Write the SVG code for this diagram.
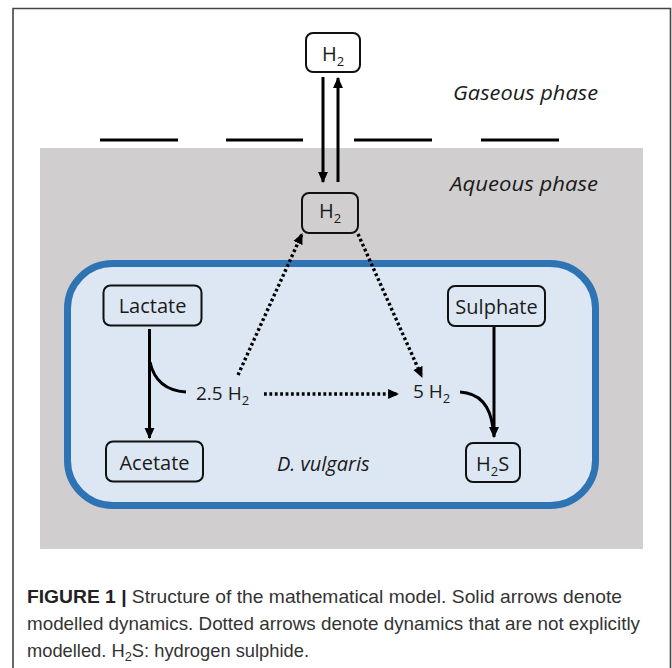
<svg xmlns="http://www.w3.org/2000/svg" width="672" height="668" viewBox="0 0 672 668">
<style>
.box{fill:none;stroke:#111;stroke-width:2}
.lbl{font-family:"Open Sans","DejaVu Sans",sans-serif;font-size:20px;fill:#1a1a1a}
.it{font-family:"Open Sans","DejaVu Sans",sans-serif;font-size:20px;font-style:italic;fill:#1a1a1a}
.sub{font-size:13px}
.sol{fill:none;stroke:#000;stroke-width:3}
.dot{fill:none;stroke:#000;stroke-width:3.4;stroke-dasharray:2.8 2.6}
.cap{font-family:"Liberation Sans","Arial",sans-serif;font-size:18.5px;fill:#333}
</style>
<defs>
<marker id="ah" markerWidth="11" markerHeight="11" viewBox="0 0 10 10" refX="9" refY="5" orient="auto" markerUnits="userSpaceOnUse">
<path d="M0,0.5 L10,5 L0,9.5 Z" fill="#000"/>
</marker>
</defs>
<rect x="0" y="0" width="672" height="668" fill="#fff"/>
<path d="M13,668 V8.5 H670.5 V668" fill="none" stroke="#444" stroke-width="1.6"/>
<g id="aqueous-bg"><rect x="40" y="148" width="603" height="401" fill="#d0cece"/></g>
<g id="surface">
<path d="M100,140 H178 M226,140 H303 M354,140 H432 M481,140 H559" stroke="#000" stroke-width="3.2"/>
</g>
<g id="phase-labels">
<text class="it" x="453" y="100" textLength="145" lengthAdjust="spacingAndGlyphs">Gaseous phase</text>
<text class="it" x="450" y="191" textLength="148" lengthAdjust="spacingAndGlyphs">Aqueous phase</text>
</g>
<g id="cell"><rect x="67.5" y="263.5" width="528" height="242" rx="45" fill="#dde7f3" stroke="#2e74b5" stroke-width="7"/>
<text class="it" x="277" y="471">D. vulgaris</text></g>
<g id="h2-gas"><rect class="box" x="306" y="33" width="54" height="39" rx="7"/>
<text class="lbl" x="322" y="61">H<tspan class="sub" dy="5">2</tspan></text></g>
<g id="h2-aq"><rect class="box" x="302" y="193" width="56" height="40" rx="7"/>
<text class="lbl" x="319" y="218">H<tspan class="sub" dy="5">2</tspan></text></g>
<g id="lactate"><rect class="box" x="103.5" y="285.5" width="98" height="40" rx="7"/>
<text class="lbl" x="152.5" y="313" text-anchor="middle">Lactate</text></g>
<g id="acetate"><rect class="box" x="106" y="441.5" width="97" height="40" rx="7"/>
<text class="lbl" x="154.5" y="470" text-anchor="middle">Acetate</text></g>
<g id="sulphate"><rect class="box" x="448" y="286" width="97" height="40" rx="7"/>
<text class="lbl" x="496.5" y="314" text-anchor="middle">Sulphate</text></g>
<g id="h2s"><rect class="box" x="466" y="443" width="54" height="39" rx="7"/>
<text class="lbl" x="476" y="471">H<tspan class="sub" dy="5">2</tspan><tspan dy="-5">S</tspan></text></g>
<g id="h2-25"><text class="lbl" x="196" y="400" style="font-size:19px">2.5 H<tspan class="sub" dy="5">2</tspan></text></g>
<g id="h2-5"><text class="lbl" x="413" y="398" style="font-size:19px">5 H<tspan class="sub" dy="5">2</tspan></text></g>
<g id="connectors">
<path class="sol" d="M323,77 V182" marker-end="url(#ah)"/>
<path class="sol" d="M338,182 V78" marker-end="url(#ah)"/>
<path class="sol" d="M149.5,329 V438" marker-end="url(#ah)"/>
<path class="sol" d="M150,362 Q156,390 186,392"/>
<path class="sol" d="M494,327 V437" marker-end="url(#ah)"/>
<path class="sol" d="M460,392 C478,393 490,404 493,428"/>
<path class="dot" d="M238,375 L302,234" marker-end="url(#ah)"/>
<path class="dot" d="M358,234 L422,377" marker-end="url(#ah)"/>
<path class="dot" d="M264,394 H398" marker-end="url(#ah)"/>
</g>
<g id="caption">
<text class="cap" x="27" y="603" textLength="595" lengthAdjust="spacingAndGlyphs"><tspan font-weight="bold" fill="#222">FIGURE 1 |</tspan> Structure of the mathematical model. Solid arrows denote</text>
<text class="cap" x="27" y="630" textLength="613" lengthAdjust="spacingAndGlyphs">modelled dynamics. Dotted arrows denote dynamics that are not explicitly</text>
<text class="cap" x="27" y="657" textLength="282" lengthAdjust="spacingAndGlyphs">modelled. H<tspan font-size="13" dy="4">2</tspan><tspan dy="-4">S: hydrogen sulphide.</tspan></text>
</g>
</svg>
